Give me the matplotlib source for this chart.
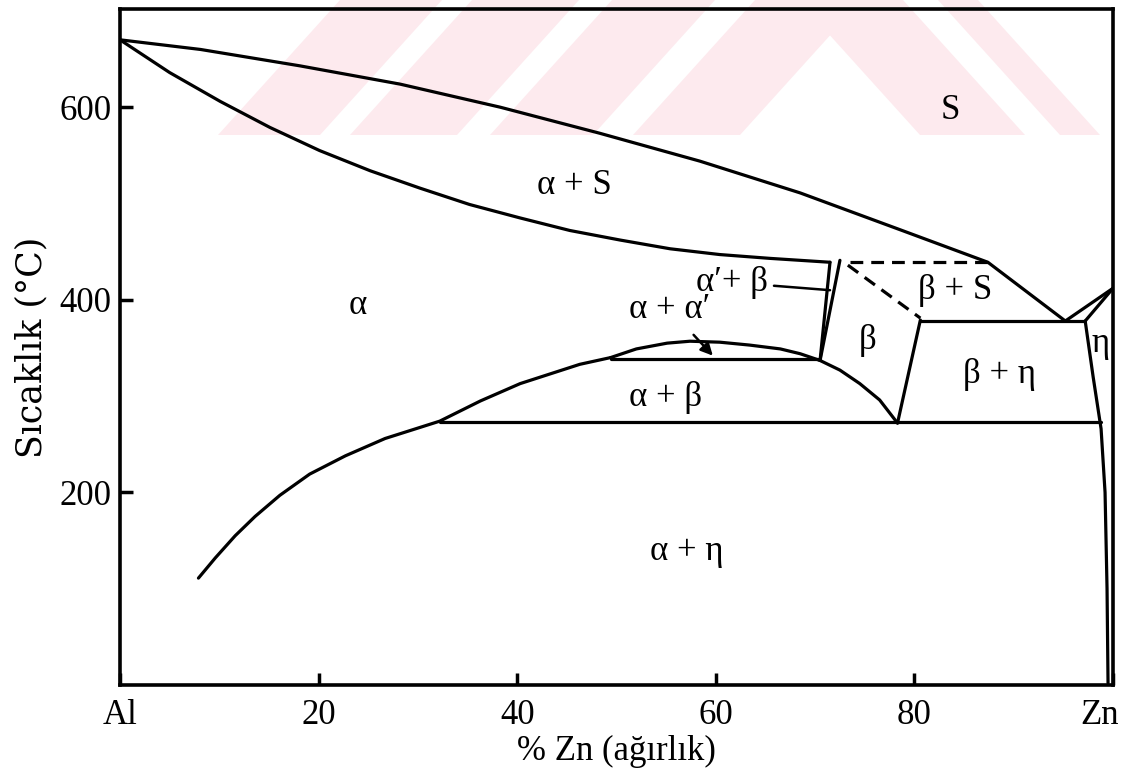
import matplotlib.pyplot as plt
from matplotlib.patches import Polygon
from matplotlib.transforms import ScaledTranslation

plt.rcParams['font.family'] = ['Liberation Serif', 'DejaVu Serif']

# liquidus (S / alpha+S) and solidus of alpha
liq_x = [0, 8.1, 18.1, 28.2, 38.3, 48.3, 58.4, 68.5, 78.5, 87.4, 95.2, 100]
liq_t = [670, 660, 643, 624, 600, 573, 544, 511, 473, 439, 378, 412]
sol_x = [0, 5.0, 10.1, 15.1, 20.1, 25.2, 30.2, 35.2, 40.3, 45.3, 50.4, 55.4, 60.4, 65.5, 71.5]
sol_t = [670, 636, 606, 579, 555, 534, 516, 499, 485, 472, 462, 453, 447, 443, 439]

# alpha solvus up to the miscibility gap
solv_x = [7.9, 9.6, 11.6, 13.6, 16.1, 19.1, 22.7, 26.7, 32.2, 36.3, 40.3, 46.3, 49.4]
solv_t = [111, 132, 155, 175, 197, 219, 238, 256, 274, 295, 313, 333, 340]
# top of the alpha + alpha' gap
gap_x = [49.4, 52.0, 55.1, 57.4, 60.4, 63.4, 66.5, 68.5, 70.5]
gap_t = [340, 349, 355, 357, 356, 353, 349, 344, 337]
# beta field
beta_left_x = [70.5, 72.5]
beta_left_t = [337, 441]
beta_low_x = [70.5, 72.5, 74.5, 76.5, 78.3]
beta_low_t = [337, 327, 313, 296, 272]
beta_right_x = [80.6, 78.3]
beta_right_t = [379, 272]
alpha_p_x = [71.5, 70.5]
alpha_p_t = [439, 337]
# eta solvus and Zn side
eta_x = [97.2, 98.0, 98.8, 99.2, 99.4, 99.5]
eta_t = [378, 320, 266, 200, 100, 2]
zn_x = [97.2, 100]
zn_t = [378, 412]

# horizontal invariant lines
monotectoid_t = 339
monotectoid_x = [49.4, 70.5]
eutectoid_t = 273
eutectoid_x = [32.2, 98.8]
eutectic_t = 378
eutectic_x = [80.6, 97.2]
peritectic_t = 439
peritectic_x = [73.5, 87.4]
diag_x = [73.3, 80.6]
diag_t = [436, 381]

labels = [
    ('S', 83.6, 597), ('α + S', 45.8, 519), ('α', 23.9, 394),
    ('β', 75.3, 358), ('β + S', 84.1, 410), ('β + η', 88.6, 322),
    ('η', 98.7, 355), ('α + β', 54.9, 299), ('α + η', 57.1, 139),
]

fig = plt.figure(figsize=(11.28, 7.71), dpi=100)

# faint pink watermark band at the top of the scan (pixel positions)
pink = '#fdeaee'
W, H = 1128, 771


def stripe(x0, x1, dx):
    pts = [(x0, 135), (x1, 135), (x1 + dx, 0), (x0 + dx, 0)]
    fig.add_artist(Polygon([(px / W, 1 - py / H) for px, py in pts], closed=True,
                           transform=fig.transFigure, color=pink, lw=0, zorder=0))


for x0, x1 in [(218, 320), (350, 457), (490, 593), (633, 740)]:
    stripe(x0, x1, 122)
for x0, x1 in [(920, 1025), (1060, 1100)]:
    stripe(x0, x1, -122)

ax = fig.add_axes([120 / W, 1 - 685 / H, 993 / W, 676 / H])
ax.patch.set_alpha(0)

kw = dict(color='black', lw=2.3, solid_capstyle='round', solid_joinstyle='round')
ax.plot(liq_x, liq_t, **kw)
ax.plot(sol_x, sol_t, **kw)
ax.plot(solv_x, solv_t, **kw)
ax.plot(gap_x, gap_t, **kw)
ax.plot(beta_left_x, beta_left_t, **kw)
ax.plot(beta_low_x, beta_low_t, **kw)
ax.plot(beta_right_x, beta_right_t, **kw)
ax.plot(alpha_p_x, alpha_p_t, **kw)
ax.plot(eta_x, eta_t, **kw)
ax.plot(zn_x, zn_t, **kw)
ax.plot(monotectoid_x, [monotectoid_t] * 2, **kw)
ax.plot(eutectoid_x, [eutectoid_t] * 2, **kw)
ax.plot(eutectic_x, [eutectic_t] * 2, **kw)
ax.plot(peritectic_x, [peritectic_t] * 2, color='black', lw=2.3, ls=(0, (4, 2.5)))
ax.plot(diag_x, diag_t, color='black', lw=2.3, ls=(0, (4, 2.5)))

for txt, x, y in labels:
    ax.text(x, y, txt, fontsize=25, ha='center', va='center')

ax.annotate("α′+ β", xy=(71.5, 410), xytext=(65.3, 418), fontsize=25, ha='right', va='center',
            arrowprops=dict(arrowstyle='-', color='black', lw=1.8, shrinkA=2, shrinkB=0))
ax.annotate("α + α′", xy=(59.7, 342), xytext=(55.4, 390), fontsize=25, ha='center', va='center',
            arrowprops=dict(arrowstyle='-|>', color='black', lw=1.8, mutation_scale=18,
                            shrinkA=6, shrinkB=0))

ax.set_xlim(0, 100)
ax.set_ylim(0, 702)
ax.set_xticks([0, 20, 40, 60, 80, 100])
ax.set_xticklabels(['Al', '20', '40', '60', '80', 'Zn'])
ax.set_yticks([200, 400, 600])
ax.tick_params(direction='in', length=9, width=2.5, labelsize=25, pad=6)
ax.tick_params(axis='x', pad=10)
for s in ax.spines.values():
    s.set_linewidth(2.6)

# nudge the end labels inward as in the scan
xl = ax.get_xticklabels()
xl[-1].set_transform(xl[-1].get_transform() + ScaledTranslation(-13 / 100, 0, fig.dpi_scale_trans))

ax.set_xlabel('% Zn (ağırlık)', fontsize=25, labelpad=2)
ax.set_ylabel('Sıcaklık (°C)', fontsize=25, family=['DejaVu Serif'], labelpad=8)

fig.savefig('out.png', dpi=100)
